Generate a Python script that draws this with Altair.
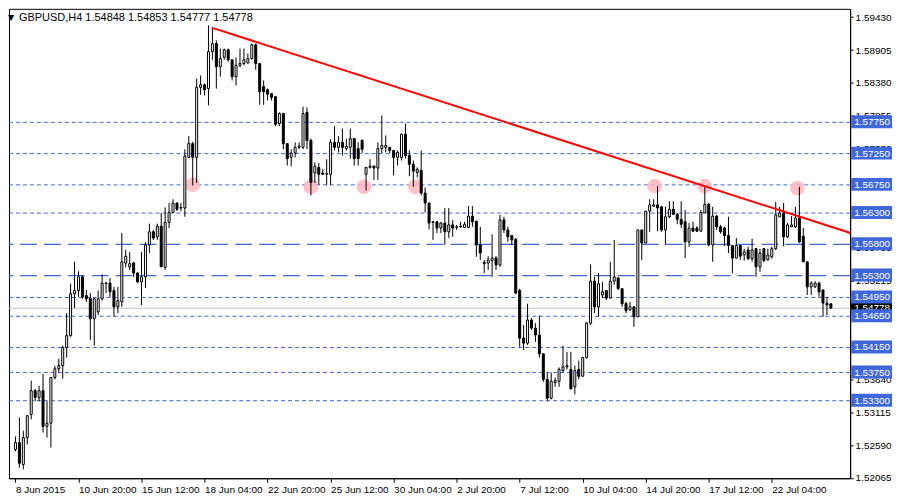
import altair as alt
import pandas as pd

# ---------------- data ----------------
opens = [1.5252,1.5263,1.5228,1.5271,1.5308,1.5346,1.5335,1.5346,1.5289,1.5294,
         1.5367,1.5381,1.5386,1.5415,1.5434,1.5501,1.5506,1.5528,1.5498,1.5494,
         1.5461,1.5472,1.5493,1.5517,1.5518,1.5506,1.5480,1.5488,1.5550,1.5544,
         1.5550,1.5534,1.5520,1.5528,1.5579,1.5600,1.5592,1.5609,1.5543,1.5615,
         1.5631,1.5646,1.5638,1.5638,1.5719,1.5741,1.5719,1.5831,1.5835,1.5829,
         1.5888,1.5901,1.5864,1.5879,1.5891,1.5875,1.5848,1.5866,1.5869,1.5870,
         1.5877,1.5899,1.5869,1.5832,1.5827,1.5821,1.5816,1.5773,1.5789,1.5741,
         1.5719,1.5726,1.5735,1.5735,1.5791,1.5746,1.5694,1.5703,1.5694,1.5692,
         1.5692,1.5743,1.5735,1.5743,1.5733,1.5735,1.5749,1.5733,1.5746,1.5692,
         1.5703,1.5705,1.5702,1.5733,1.5735,1.5735,1.5730,1.5719,1.5719,1.5756,
         1.5722,1.5708,1.5695,1.5698,1.5662,1.5646,1.5616,1.5616,1.5606,1.5614,
         1.5600,1.5611,1.5607,1.5608,1.5607,1.5607,1.5625,1.5617,1.5579,1.5551,
         1.5550,1.5554,1.5558,1.5547,1.5619,1.5603,1.5594,1.5588,1.5506,1.5430,
         1.5422,1.5459,1.5446,1.5435,1.5405,1.5364,1.5334,1.5359,1.5361,1.5378,
         1.5384,1.5380,1.5352,1.5380,1.5369,1.5399,1.5454,1.5521,1.5480,1.5499,
         1.5506,1.5494,1.5521,1.5526,1.5509,1.5485,1.5475,1.5480,1.5464,1.5603,
         1.5582,1.5633,1.5641,1.5643,1.5640,1.5603,1.5624,1.5636,1.5628,1.5620,
         1.5616,1.5584,1.5606,1.5606,1.5601,1.5630,1.5644,1.5579,1.5625,1.5608,
         1.5606,1.5594,1.5578,1.5558,1.5578,1.5563,1.5571,1.5557,1.5573,1.5544,
         1.5573,1.5555,1.5560,1.5573,1.5624,1.5630,1.5592,1.5608,1.5608,1.5622,
         1.5593,1.5552,1.5512,1.5512,1.5518,1.5507,1.5486,1.54848]
highs = [1.5273,1.5303,1.5282,1.5306,1.5362,1.5349,1.5354,1.5373,1.5329,1.5367,
         1.5386,1.5397,1.5418,1.5470,1.5517,1.5552,1.5537,1.5530,1.5507,1.5502,
         1.5494,1.5506,1.5532,1.5520,1.5526,1.5512,1.5512,1.5598,1.5571,1.5568,
         1.5552,1.5536,1.5568,1.5584,1.5613,1.5603,1.5613,1.5630,1.5639,1.5646,
         1.5652,1.5647,1.5646,1.5732,1.5753,1.5744,1.5845,1.5850,1.5837,1.5930,
         1.5927,1.5906,1.5893,1.5893,1.5893,1.5875,1.5879,1.5893,1.5893,1.5885,
         1.5901,1.5901,1.5869,1.5842,1.5829,1.5821,1.5816,1.5791,1.5789,1.5741,
         1.5732,1.5743,1.5743,1.5800,1.5799,1.5749,1.5711,1.5710,1.5700,1.5716,
         1.5748,1.5769,1.5753,1.5765,1.5749,1.5765,1.5749,1.5743,1.5748,1.5703,
         1.5716,1.5706,1.5743,1.5786,1.5754,1.5735,1.5730,1.5730,1.5757,1.5773,
         1.5730,1.5714,1.5703,1.5730,1.5671,1.5646,1.5617,1.5617,1.5616,1.5638,
         1.5638,1.5619,1.5611,1.5616,1.5616,1.5641,1.5641,1.5617,1.5608,1.5555,
         1.5561,1.5596,1.5561,1.5627,1.5624,1.5608,1.5595,1.5590,1.5509,1.5451,
         1.5485,1.5462,1.5454,1.5466,1.5405,1.5375,1.5375,1.5367,1.5383,1.5418,
         1.5408,1.5408,1.5386,1.5394,1.5400,1.5456,1.5548,1.5528,1.5534,1.5520,
         1.5506,1.5552,1.5587,1.5528,1.5509,1.5488,1.5488,1.5480,1.5603,1.5603,
         1.5633,1.5652,1.5652,1.5673,1.5640,1.5640,1.5649,1.5649,1.5630,1.5649,
         1.5635,1.5614,1.5616,1.5609,1.5635,1.5672,1.5646,1.5640,1.5627,1.5611,
         1.5608,1.5624,1.5578,1.5590,1.5579,1.5573,1.5576,1.5589,1.5574,1.5573,
         1.5574,1.5573,1.5576,1.5648,1.5640,1.5646,1.5614,1.5625,1.5640,1.5672,
         1.5606,1.5552,1.5521,1.5521,1.5520,1.5507,1.5496,1.54853]
lows = [1.5249,1.5223,1.5220,1.5260,1.5300,1.5329,1.5329,1.5279,1.5271,1.5255,
        1.5364,1.5375,1.5365,1.5399,1.5432,1.5478,1.5496,1.5493,1.5488,1.5427,
        1.5418,1.5467,1.5490,1.5502,1.5496,1.5464,1.5470,1.5480,1.5543,1.5539,
        1.5528,1.5518,1.5483,1.5510,1.5566,1.5587,1.5587,1.5544,1.5539,1.5606,
        1.5630,1.5633,1.5633,1.5624,1.5719,1.5674,1.5678,1.5819,1.5818,1.5802,
        1.5875,1.5829,1.5848,1.5875,1.5872,1.5842,1.5834,1.5863,1.5866,1.5869,
        1.5875,1.5859,1.5803,1.5803,1.5810,1.5810,1.5769,1.5769,1.5732,1.5706,
        1.5705,1.5719,1.5732,1.5732,1.5732,1.5658,1.5678,1.5675,1.5691,1.5675,
        1.5675,1.5730,1.5727,1.5722,1.5730,1.5717,1.5706,1.5706,1.5726,1.5666,
        1.5701,1.5683,1.5683,1.5726,1.5727,1.5726,1.5690,1.5706,1.5714,1.5717,
        1.5689,1.5672,1.5687,1.5658,1.5631,1.5604,1.5587,1.5598,1.5598,1.5579,
        1.5590,1.5592,1.5603,1.5606,1.5606,1.5606,1.5608,1.5560,1.5555,1.5534,
        1.5539,1.5528,1.5539,1.5544,1.5598,1.5584,1.5579,1.5501,1.5416,1.5411,
        1.5419,1.5443,1.5424,1.5399,1.5360,1.5329,1.5332,1.5352,1.5352,1.5375,
        1.5380,1.5348,1.5340,1.5364,1.5369,1.5397,1.5451,1.5470,1.5464,1.5494,
        1.5491,1.5494,1.5515,1.5507,1.5480,1.5470,1.5474,1.5448,1.5464,1.5555,
        1.5582,1.5600,1.5640,1.5601,1.5600,1.5579,1.5622,1.5627,1.5612,1.5606,
        1.5558,1.5576,1.5600,1.5600,1.5600,1.5630,1.5577,1.5552,1.5603,1.5597,
        1.5577,1.5566,1.5534,1.5557,1.5555,1.5554,1.5555,1.5552,1.5528,1.5536,
        1.5551,1.5554,1.5557,1.5571,1.5624,1.5577,1.5590,1.5608,1.5606,1.5582,
        1.5552,1.5499,1.5499,1.5510,1.5496,1.5464,1.5467,1.54777]
closes = [1.5263,1.5230,1.5271,1.5306,1.5346,1.5335,1.5346,1.5289,1.5294,1.5367,
          1.5381,1.5386,1.5415,1.5434,1.5501,1.5506,1.5528,1.5496,1.5493,1.5461,
          1.5493,1.5493,1.5518,1.5518,1.5504,1.5480,1.5490,1.5552,1.5561,1.5549,
          1.5534,1.5520,1.5528,1.5579,1.5600,1.5590,1.5609,1.5544,1.5615,1.5631,
          1.5646,1.5636,1.5639,1.5721,1.5741,1.5719,1.5831,1.5835,1.5827,1.5888,
          1.5901,1.5864,1.5877,1.5891,1.5875,1.5848,1.5866,1.5869,1.5875,1.5877,
          1.5899,1.5869,1.5824,1.5824,1.5820,1.5815,1.5772,1.5789,1.5741,1.5717,
          1.5726,1.5735,1.5737,1.5789,1.5746,1.5679,1.5705,1.5692,1.5692,1.5693,
          1.5743,1.5735,1.5743,1.5735,1.5737,1.5749,1.5717,1.5717,1.5732,1.5703,
          1.5705,1.5702,1.5733,1.5738,1.5738,1.5730,1.5719,1.5727,1.5756,1.5722,
          1.5708,1.5697,1.5700,1.5662,1.5646,1.5614,1.5615,1.5606,1.5614,1.5600,
          1.5611,1.5606,1.5608,1.5609,1.5612,1.5625,1.5616,1.5579,1.5566,1.5549,
          1.5555,1.5558,1.5547,1.5619,1.5603,1.5592,1.5587,1.5502,1.5430,1.5422,
          1.5459,1.5446,1.5435,1.5405,1.5364,1.5334,1.5361,1.5362,1.5380,1.5384,
          1.5386,1.5349,1.5378,1.5369,1.5399,1.5454,1.5521,1.5480,1.5517,1.5504,
          1.5494,1.5521,1.5528,1.5509,1.5485,1.5474,1.5480,1.5464,1.5603,1.5582,
          1.5633,1.5643,1.5643,1.5638,1.5603,1.5624,1.5636,1.5628,1.5620,1.5612,
          1.5584,1.5606,1.5601,1.5601,1.5631,1.5644,1.5579,1.5625,1.5608,1.5600,
          1.5594,1.5578,1.5558,1.5578,1.5561,1.5568,1.5557,1.5571,1.5544,1.5566,
          1.5554,1.5563,1.5573,1.5627,1.5630,1.5592,1.5611,1.5611,1.5622,1.5584,
          1.5552,1.5512,1.5518,1.5518,1.5504,1.5486,1.5483,1.54778]

x_tick_idx = [0, 16, 32, 48, 64, 80, 96, 112, 128, 144, 160, 176, 192]
x_tick_labels = ["8 Jun 2015", "10 Jun 20:00", "15 Jun 12:00", "18 Jun 04:00",
                 "22 Jun 20:00", "25 Jun 12:00", "30 Jun 04:00", "2 Jul 20:00",
                 "7 Jul 12:00", "10 Jul 04:00", "14 Jul 20:00", "17 Jul 12:00",
                 "22 Jul 04:00"]
y_tick_values = [1.59430, 1.58905, 1.58380, 1.57855, 1.57330, 1.56805,
                 1.55755, 1.55215, 1.53640, 1.53115, 1.52590, 1.52065]
short_levels = [1.5775, 1.5725, 1.5675, 1.5630, 1.5495, 1.5465, 1.5415, 1.5375, 1.5330]
long_levels = [1.5580, 1.5530]
current_price = 1.54778
touch_idx = [45, 75, 88.5, 101.5, 162.3, 175, 198.5]
touch_price = [1.5675, 1.5672, 1.5672, 1.5672, 1.5673, 1.5673, 1.5670]
trend_idx = [50, 214]
trend_price = [1.5926, 1.5594]
title_text = "GBPUSD,H4  1.54848 1.54853 1.54777 1.54778"

# ---------------- chart ----------------
W, H = 844, 471
FONT = "Liberation Sans"
BLUE = "#3F68DC"

df = pd.DataFrame({"i": list(range(len(opens))), "open": opens, "high": highs,
                   "low": lows, "close": closes})

label_arr = "[" + ",".join("'" + s + "'" for s in x_tick_labels) + "]"
x_axis = alt.Axis(values=x_tick_idx, labelExpr=label_arr + "[round(datum.value/16)]",
                  labelAlign="left", labelPadding=2, tickSize=4, grid=False,
                  title=None, labelFont=FONT, labelFontSize=10, labelColor="black",
                  domainColor="black", tickColor="black", labelOverlap=False,
                  labelFlush=False)
y_axis = alt.Axis(values=y_tick_values, format=".5f", orient="right", tickSize=3,
                  labelPadding=2, grid=False, title=None, labelFont=FONT,
                  labelFontSize=10, labelColor="black", domainColor="black",
                  tickColor="black", labelOverlap=False, labelFlush=False)
x_scale = alt.Scale(domain=[-0.375, 210.625], nice=False, zero=False)
y_scale = alt.Scale(domain=[1.52060, 1.59565], nice=False, zero=False)

def X(f="i"):
    return alt.X(f + ":Q", scale=x_scale, axis=x_axis)

def Y(f):
    return alt.Y(f + ":Q", scale=y_scale, axis=y_axis)

lev_df = pd.DataFrame({"price": short_levels})
long_df = pd.DataFrame({"price": long_levels})
cur_df = pd.DataFrame({"price": [current_price]})
all_lv = pd.DataFrame({"price": short_levels + long_levels})

short_lines = alt.Chart(lev_df).mark_rule(color=BLUE, strokeDash=[4, 3], strokeWidth=1).encode(y=Y("price"))
long_lines = alt.Chart(long_df).mark_rule(color=BLUE, strokeDash=[17, 7], strokeWidth=1.2).encode(y=Y("price"))
cur_line = alt.Chart(cur_df).mark_rule(color="#C0C0C0", strokeWidth=1).encode(y=Y("price"))

touch_df = pd.DataFrame({"i": touch_idx, "price": touch_price})
touches = alt.Chart(touch_df).mark_circle(size=220, color="#FFB6C1", opacity=0.85).encode(
    x=X(), y=Y("price"))

wicks = alt.Chart(df).mark_rule(color="black", strokeWidth=1).encode(
    x=X(), y=Y("low"), y2="high:Q")
bodies = alt.Chart(df).mark_bar(size=2, stroke="black", strokeWidth=1).encode(
    x=X(), y=Y("open"), y2="close:Q",
    fill=alt.condition("datum.close >= datum.open", alt.value("white"), alt.value("black")))

trend_df = pd.DataFrame({"i": trend_idx, "price": trend_price})
trend = alt.Chart(trend_df).mark_line(color="#FF0000", strokeWidth=2, clip=True).encode(
    x=X(), y=Y("price"))

cur_box = alt.Chart(cur_df).mark_rect(color="black", yOffset=-7, y2Offset=6).encode(
    y=Y("price"), y2="price:Q", x=alt.value(W + 1), x2=alt.value(W + 42))
cur_txt = alt.Chart(cur_df).mark_text(align="left", baseline="middle", color="white",
                                      font=FONT, fontSize=10).encode(
    y=Y("price"), x=alt.value(W + 4), text=alt.Text("price:Q", format=".5f"))
boxes = alt.Chart(all_lv).mark_rect(color=BLUE, yOffset=-7, y2Offset=6).encode(
    y=Y("price"), y2="price:Q", x=alt.value(W + 1), x2=alt.value(W + 42))
box_txt = alt.Chart(all_lv).mark_text(align="left", baseline="middle", color="white",
                                      font=FONT, fontSize=10).encode(
    y=Y("price"), x=alt.value(W + 4), text=alt.Text("price:Q", format=".5f"))

title_df = pd.DataFrame({"t": [title_text], "s": ["\u25BC"]})
title = alt.Chart(title_df).mark_text(align="left", baseline="top", font=FONT,
                                      fontSize=11, color="black").encode(
    text="t:N", x=alt.value(10), y=alt.value(3))
tri = alt.Chart(title_df).mark_text(align="left", baseline="top", font="DejaVu Sans",
                                    fontSize=8, color="black").encode(
    text="s:N", x=alt.value(-1), y=alt.value(5))

chart = alt.layer(short_lines, long_lines, cur_line, touches, wicks, bodies, trend,
                  cur_box, cur_txt, boxes, box_txt, title, tri).properties(
    width=W, height=H, padding={"left": 0, "top": 0, "right": 0, "bottom": 0},
    background="white"
).configure_view(stroke="black", strokeWidth=1)

chart.save("out.html", embed_options={"renderer": "svg", "actions": False})
